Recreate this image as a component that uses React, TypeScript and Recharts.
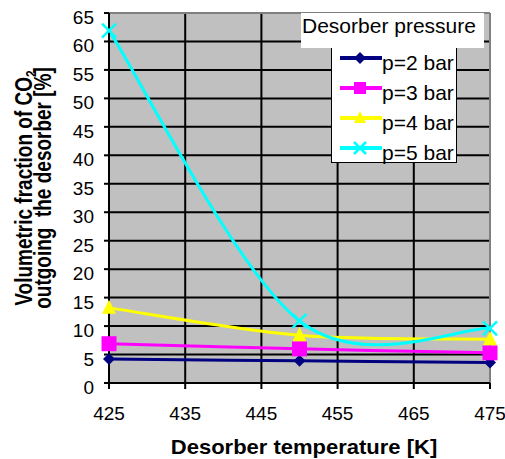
import React from 'react';
import { LineChart, Line, XAxis, YAxis, CartesianGrid, ReferenceLine, Legend } from 'recharts';

const temperatures = [425, 450, 475];
const p2Values = [4.2, 3.9, 3.6];
const p3Values = [6.9, 6.0, 5.3];
const p4Values = [13.2, 8.4, 7.7];
const p5Values = [61.9, 10.9, 9.6];
const seriesNames = ['p=2 bar', 'p=3 bar', 'p=4 bar', 'p=5 bar'];
const seriesColors = ['#000080', '#FF00FF', '#FFFF00', '#00FFFF'];
const xTicks = [425, 435, 445, 455, 465, 475];
const yTicks = [0, 5, 10, 15, 20, 25, 30, 35, 40, 45, 50, 55, 60, 65];
const legendTitle = 'Desorber pressure';
const xTitle = 'Desorber temperature [K]';
const yTitleLine1 = 'Volumetric fraction of CO';
const yTitleLine2 = 'outgoing  the desorber [%]';

const data = temperatures.map((t, i) => ({
  t,
  p2: p2Values[i],
  p3: p3Values[i],
  p4: p4Values[i],
  p5: p5Values[i],
}));

const FONT = '"Liberation Sans", Arial, sans-serif';

// Catmull-Rom style smoothing (like Excel smoothed lines)
const smoothCurve: any = (context: any) => {
  let pts: number[][] = [];
  return {
    areaStart() {},
    areaEnd() {},
    lineStart() {
      pts = [];
    },
    lineEnd() {
      if (!pts.length) return;
      context.moveTo(pts[0][0], pts[0][1]);
      for (let i = 0; i < pts.length - 1; i++) {
        const p0 = pts[i - 1] || pts[i];
        const p1 = pts[i];
        const p2 = pts[i + 1];
        const p3 = pts[i + 2] || pts[i + 1];
        context.bezierCurveTo(
          p1[0] + (p2[0] - p0[0]) / 6,
          p1[1] + (p2[1] - p0[1]) / 6,
          p2[0] - (p3[0] - p1[0]) / 6,
          p2[1] - (p3[1] - p1[1]) / 6,
          p2[0],
          p2[1]
        );
      }
    },
    point(x: number, y: number) {
      pts.push([+x, +y]);
    },
  };
};

const Diamond = ({ cx, cy, s = 6, color }: any) => (
  <polygon points={`${cx},${cy - s} ${cx + s},${cy} ${cx},${cy + s} ${cx - s},${cy}`} fill={color} />
);
const Square = ({ cx, cy, s = 7.5, color }: any) => (
  <rect x={cx - s} y={cy - s} width={2 * s} height={2 * s} fill={color} />
);
const Triangle = ({ cx, cy, s = 7, color }: any) => (
  <polygon points={`${cx},${cy - s - 1} ${cx + s},${cy + s - 1} ${cx - s},${cy + s - 1}`} fill={color} />
);
const Cross = ({ cx, cy, s = 7, color }: any) => (
  <g stroke={color} strokeWidth={2.5}>
    <line x1={cx - s} y1={cy - s} x2={cx + s} y2={cy + s} />
    <line x1={cx - s} y1={cy + s} x2={cx + s} y2={cy - s} />
  </g>
);
const markers = [Diamond, Square, Triangle, Cross];

const makeDot = (idx: number) => (props: any) => {
  const M = markers[idx];
  if (props.cx == null || props.cy == null) return <g key={`d${idx}-${props.index}`} />;
  return (
    <g key={`d${idx}-${props.index}`}>
      <M cx={props.cx} cy={props.cy} color={seriesColors[idx]} />
    </g>
  );
};

const XTick = (props: any) => {
  const { x, y, payload } = props;
  return (
    <text x={x} y={y + 31} textAnchor="middle" fontFamily={FONT} fontSize={19} fill="#000">
      {payload.value}
    </text>
  );
};

const YTick = (props: any) => {
  const { x, y, payload } = props;
  return (
    <text x={x} y={y + 11} textAnchor="end" fontFamily={FONT} fontSize={19} fill="#000">
      {payload.value}
    </text>
  );
};

const renderLegend = () => (
  <div style={{ position: 'relative', width: 183, height: 151, fontFamily: FONT, color: '#000' }}>
    <div
      style={{
        position: 'absolute',
        left: 30,
        top: 29,
        width: 124,
        height: 119,
        background: '#fff',
        border: '1px solid #000',
      }}
    >
      {seriesNames.map((name, i) => {
        const M = markers[i];
        return (
          <div key={name} style={{ position: 'absolute', left: 0, top: i * 30, height: 30, width: 124 }}>
            <svg width={50} height={30} style={{ position: 'absolute', left: 0, top: 0 }}>
              <line x1={8} y1={15} x2={50} y2={15} stroke={seriesColors[i]} strokeWidth={4} />
              <M cx={28} cy={15} s={6} color={seriesColors[i]} />
            </svg>
            <span
              style={{
                position: 'absolute',
                left: 50,
                top: 5,
                fontSize: 21,
                lineHeight: '30px',
                whiteSpace: 'nowrap',
              }}
            >
              {name}
            </span>
          </div>
        );
      })}
    </div>
    <div
      style={{
        position: 'absolute',
        left: 0,
        top: 0,
        width: 183,
        height: 35,
        background: '#fff',
        fontSize: 21,
        lineHeight: '24px',
        paddingTop: 1,
        paddingLeft: 1,
        boxSizing: 'border-box',
        whiteSpace: 'nowrap',
        zIndex: 1,
      }}
    >
      {legendTitle}
    </div>
  </div>
);

export default function App() {
  return (
    <div style={{ position: 'absolute', left: 0, top: 0, width: 505, height: 459, background: '#fff' }}>
      <LineChart width={505} height={459} data={data} margin={{ top: 13, right: 15, left: 0, bottom: 0 }}>
        <CartesianGrid fill="#C0C0C0" stroke="#000" strokeWidth={2} />
        <XAxis
          dataKey="t"
          type="number"
          domain={[425, 475]}
          ticks={xTicks}
          height={76}
          tickSize={6}
          tickMargin={0}
          tick={<XTick />}
          stroke="#000"
          strokeWidth={2}
          tickLine={{ stroke: '#000', strokeWidth: 2 }}
          label={{
            content: () => (
              <text
                transform="translate(304,454) scale(1.1,1)"
                textAnchor="middle"
                fontFamily={FONT}
                fontSize={20}
                fontWeight="bold"
                fill="#000"
              >
                {xTitle}
              </text>
            ),
          }}
        />
        <YAxis
          type="number"
          domain={[0, 65]}
          ticks={yTicks}
          width={109}
          tickSize={5}
          tickMargin={10}
          tick={<YTick />}
          stroke="#000"
          strokeWidth={2}
          tickLine={{ stroke: '#000', strokeWidth: 2 }}
          interval={0}
          label={{
            content: () => (
              <g>
                <text
                  transform="translate(32,188) rotate(-90) scale(1,1.25)"
                  textAnchor="middle"
                  fontFamily={FONT}
                  fontSize={19}
                  fontWeight="bold"
                  fill="#000"
                >
                  {yTitleLine1}
                  <tspan fontSize={12} dy={3}>2</tspan>
                </text>
                <text
                  transform="translate(51,188) rotate(-90) scale(1,1.25)"
                  textAnchor="middle"
                  fontFamily={FONT}
                  fontSize={19}
                  fontWeight="bold"
                  fill="#000"
                  style={{ whiteSpace: 'pre' }}
                >
                  {yTitleLine2}
                </text>
              </g>
            ),
          }}
        />
        <ReferenceLine y={65} stroke="#808080" strokeWidth={2} />
        <ReferenceLine x={475} stroke="#808080" strokeWidth={2} />
        <Legend
          layout="horizontal"
          verticalAlign="middle"
          align="center"
          content={renderLegend}
          wrapperStyle={{ left: 301, top: 13, width: 183, height: 151 }}
        />
        {['p2', 'p3', 'p4', 'p5'].map((key, i) => (
          <Line
            key={key}
            dataKey={key}
            name={seriesNames[i]}
            type={smoothCurve}
            stroke={seriesColors[i]}
            strokeWidth={3}
            dot={makeDot(i)}
            activeDot={false}
            isAnimationActive={false}
          />
        ))}
      </LineChart>
    </div>
  );
}
